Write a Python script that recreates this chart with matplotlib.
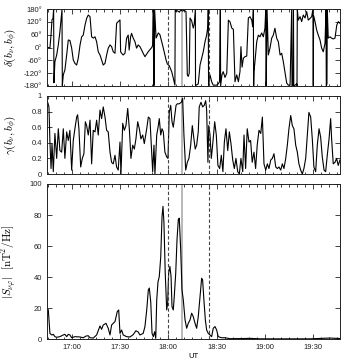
import matplotlib
matplotlib.use("Agg")
import matplotlib.pyplot as plt
from matplotlib.ticker import MultipleLocator

plt.rcParams['font.family'] = ['Liberation Sans', 'DejaVu Sans']
plt.rcParams['mathtext.fontset'] = 'cm'
plt.rcParams['axes.unicode_minus'] = False

# time in minutes after 16:00 UT
delta_t = [44.5, 45.5, 46.5, 47.2, 47.8, 48.4, 48.8, 49.0, 49.6, 50.7, 51.7, 52.7, 54.0, 54.2, 54.8, 55.8,
           56.9, 57.9, 58.9, 60.0, 61.0, 62.0, 63.1, 64.1, 65.2, 66.2, 67.2, 68.3, 69.3, 70.3, 71.4, 72.4,
           73.4, 74.5, 75.5, 76.5, 77.6, 78.6, 79.6, 80.7, 81.7, 82.7, 83.8, 84.8, 85.8, 86.9, 87.9, 88.9,
           90.0, 90.4, 91.0, 92.0, 93.1, 94.1, 95.1, 95.7, 96.6, 97.2, 98.2, 99.3, 100.3, 101.3, 102.4,
           103.4, 104.4, 105.5, 107.5, 109.7, 110.3, 110.7, 110.9, 111.3, 111.5, 112.4, 113.8, 114.8,
           115.9, 116.9, 118.6, 119.4, 120.6, 122.1, 123.1, 124.1, 124.3, 124.8, 125.6, 126.8, 127.7,
           128.9, 129.7, 131.0, 131.8, 132.4, 133.0, 133.5, 134.5, 135.5, 136.1, 136.8, 136.9, 138.6,
           139.7, 141.7, 142.8, 143.8, 144.6, 144.8, 145.0, 145.9, 146.9, 147.9, 150.0, 151.0, 151.8,
           152.3, 152.5, 153.3, 154.1, 155.2, 156.3, 157.3, 158.3, 159.4, 160.4, 161.4, 162.5, 163.5,
           164.5, 165.1, 165.8, 166.6, 167.6, 168.7, 169.7, 170.7, 171.8, 172.4, 172.8, 173.0, 173.2,
           173.8, 174.9, 175.9, 176.9, 178.0, 179.0, 180.0, 180.5, 180.7, 180.8, 181.3, 182.1, 183.1,
           184.2, 185.2, 186.2, 187.3, 188.3, 189.4, 190.4, 191.4, 192.5, 193.5, 194.5, 195.6, 196.6,
           196.8, 197.4, 197.7, 197.9, 198.7, 199.7, 199.9, 200.1, 200.7, 201.8, 202.8, 203.8, 204.9,
           205.9, 206.9, 208.0, 209.0, 209.8, 210.0, 210.2, 211.1, 212.1, 213.1, 214.2, 215.2, 216.2,
           217.3, 217.9, 218.1, 218.5, 218.7, 219.3, 220.4, 221.5, 222.4, 223.5, 224.6, 225.6, 226.6]
delta_v = [0, 0, -3, 60, 130, 136, 178, -165, -66, -35, 12, 74, 178, -178, -128, -105,
           -35, 35, 33, -3, -58, -74, -82, -50, 12, 50, 58, 105, 136, 152, 144, 50,
           44, 50, 27, -20, -35, -58, -82, -74, -35, -3, 12, 4, -20, -27, 113, 121,
           129, -20, -27, -35, -27, 43, 58, -12, 50, 66, 44, 27, -3, 12, 4,
           -12, -27, -43, -20, 0, 10, 179, -179, -175, 179, 44, 68, 60,
           27, -3, -58, -77, -85, -113, -143, -176, 178, 170, 172, 165, 175,
           170, 175, 168, -128, -135, -120, 138, 125, 91, 110, 178, -178, -170,
           -82, -20, 27, 58, 100, 178, -178, -128, -160, -176, -176, -170, -160,
           179, -179, -128, -113, -140, -120, 128, 120, 91, 85, -160, -128, -160,
           -113, 4, -92, -50, -43, -40, 138, 144, 128, 97, 179, -179, -113,
           -66, 27, 58, 50, 68, 50, 90, 178, -178, -175, 178, -35, -4,
           44, 58, 90, 43, 27, -35, -27, -66, -120, -166, -176, -176, 179,
           -179, -176, 179, -179, -176, -170, -178, 178, 128, 144, 121, 152, 138,
           168, 128, 136, 144, 179, -179, 150, 121, 82, 58, 35, -3, -20,
           20, 179, -179, -170, 179, 44, 50, 43, 40, 44, 105, 121, 113]

gamma_t = [44.5, 45.1, 45.9, 46.5, 47.2, 47.8, 48.6, 49.6, 50.7, 51.7, 52.7, 53.8, 54.8, 55.8, 56.9,
           57.9, 58.9, 60.0, 61.0, 62.0, 63.1, 63.7, 64.5, 65.6, 66.6, 67.6, 68.5, 69.3, 70.3, 71.4,
           72.4, 73.4, 74.5, 75.5, 76.5, 77.6, 78.6, 79.6, 80.7, 81.7, 82.7, 83.8, 84.8, 85.8, 86.9,
           87.9, 88.9, 90.0, 90.6, 91.7, 92.7, 93.7, 94.8, 95.8, 96.8, 97.9, 98.9, 99.9, 101.0, 102.0,
           103.0, 104.1, 105.1, 106.6, 107.6, 108.6, 109.7, 110.3, 111.1, 111.7, 112.8, 113.8, 114.4,
           115.3, 116.1, 116.9, 117.9, 119.0, 119.8, 120.6, 121.5, 122.3, 123.1, 124.0, 124.8, 125.6,
           126.8, 128.1, 128.9, 129.7, 130.8, 131.8, 132.8, 133.9, 134.9, 135.9, 136.7, 137.6, 138.6,
           139.2, 140.3, 141.3, 142.3, 143.2, 143.8, 144.6, 145.1, 145.9, 146.7, 147.7, 148.8, 149.8,
           150.8, 151.9, 152.9, 153.9, 154.8, 155.8, 156.9, 157.9, 158.9, 160.0, 161.0, 162.0, 163.1,
           164.1, 165.1, 166.2, 167.0, 168.0, 169.0, 170.1, 171.1, 172.1, 173.2, 174.2, 175.2, 176.3,
           177.4, 178.4, 179.4, 180.5, 181.5, 182.5, 183.6, 184.6, 185.6, 186.7, 187.7, 188.7, 189.8,
           190.8, 191.8, 192.9, 193.9, 194.9, 196.0, 197.0, 198.0, 199.1, 200.1, 201.1, 202.2, 203.2,
           204.2, 205.3, 206.3, 207.3, 208.4, 209.4, 210.4, 211.5, 212.5, 213.6, 214.6, 215.6, 216.7,
           217.7, 218.7, 219.8, 220.8, 221.4, 222.4, 223.5, 224.5, 225.5, 226.6]
gamma_v = [0.88, 0.92, 0.86, 0.41, 0.07, 0.39, 0.03, 0.52, 0.20, 0.58, 0.30, 0.28, 0.58, 0.20, 0.54,
           0.43, 0.56, 0.05, 0.43, 0.58, 0.73, 0.76, 0.58, 0.09, 0.20, 0.26, 0.67, 0.62, 0.50, 0.69,
           0.13, 0.56, 0.54, 0.69, 0.50, 0.82, 0.71, 0.86, 0.73, 0.56, 0.54, 0.28, 0.15, 0.13, 0.24,
           0.09, 0.05, 0.41, 0.0, 0.65, 0.56, 0.62, 0.84, 0.58, 0.20, 0.37, 0.32, 0.45, 0.67, 0.58,
           0.45, 0.50, 0.39, 0.58, 0.73, 0.71, 0.26, 0.03, 0.37, 0.0, 0.50, 0.62, 0.71,
           0.50, 0.58, 0.54, 0.28, 0.22, 0.20, 0.79, 0.88, 0.67, 0.60, 0.75, 0.88, 0.90,
           0.90, 0.92, 0.97, 0.50, 0.05, 0.15, 0.20, 0.37, 0.62, 0.45, 0.32, 0.37, 0.54,
           0.86, 0.92, 0.86, 0.88, 0.94, 0.82, 0.15, 0.62, 0.50, 0.20, 0.41, 0.67, 0.50,
           0.11, 0.07, 0.24, 0.03, 0.41, 0.58, 0.30, 0.54, 0.39, 0.18, 0.07, 0.20, 0.03,
           0.0, 0.20, 0.03, 0.50, 0.07, 0.58, 0.41, 0.43, 0.15, 0.28, 0.07, 0.37, 0.56,
           0.52, 0.73, 0.13, 0.05, 0.13, 0.07, 0.18, 0.20, 0.26, 0.09, 0.07, 0.09, 0.05,
           0.13, 0.07, 0.20, 0.37, 0.58, 0.75, 0.62, 0.58, 0.37, 0.28, 0.13, 0.05, 0.0,
           0.07, 0.20, 0.50, 0.79, 0.73, 0.45, 0.09, 0.03, 0.37, 0.58, 0.47, 0.22, 0.05,
           0.03, 0.24, 0.45, 0.71, 0.45, 0.13, 0.15, 0.20, 0.11, 0.18]

s_t = [44.5, 45.5, 46.5, 47.6, 48.6, 49.6, 50.7, 52.7, 54.8, 55.8, 56.9, 57.9, 58.9, 60.0, 62.0,
       65.2, 67.2, 68.9, 70.3, 71.4, 73.4, 75.5, 77.6, 78.6, 79.6, 81.3, 82.7, 83.8, 84.8, 85.8,
       86.9, 88.3, 89.2, 90.0, 91.0, 92.0, 94.1, 96.2, 98.2, 99.9, 101.3, 102.4, 104.4, 105.5,
       106.6, 107.6, 108.2, 109.1, 109.9, 110.7, 111.5, 112.2, 112.8, 113.6, 114.4, 115.3, 116.1,
       116.7, 117.3, 118.1, 119.0, 119.6, 120.2, 121.0, 121.7, 122.3, 123.1, 123.7, 124.6, 125.4,
       126.2, 126.8, 127.7, 128.5, 129.3, 130.4, 131.4, 132.4, 133.5, 134.5, 135.5, 136.6, 137.6,
       138.6, 139.7, 140.7, 141.3, 142.1, 143.0, 143.8, 144.8, 145.9, 146.9, 147.9, 149.0, 150.0,
       151.0, 153.1, 155.2, 158.3, 167.6, 170.7, 176.9, 189.4, 208.0, 220.4, 224.6, 226.6]
s_v = [20, 19, 3.8, 2.8, 3.2, 1.7, 1.3, 1.7, 2.8, 3.2, 1.7, 3.2, 2.8, 1.0, 1.7,
       1.5, 1.0, 2.1, 2.3, 1.0, 0.8, 2.8, 8.6, 6.4, 9.2, 10.3, 7.1, 2.8, 9.2, 10.3,
       11.4, 17.8, 18.9, 3.8, 6.0, 2.8, 1.7, 1.5, 3.0, 5.5, 4.7, 2.8, 3.8, 8.2,
       18.9, 31.8, 33, 24, 3.8, 1.7, 4.9, 0.6, 25, 37, 40.4, 53, 79,
       85.6, 74.8, 42.5, 18.9, 23.2, 42.5, 46.9, 40.4, 21, 18.9, 27.5, 42.5, 64,
       77, 78, 57.6, 31.8, 25.4, 12.5, 7.1, 10.3, 12.5, 16.8, 14.6, 10.3, 7.1,
       14.6, 27.5, 39.3, 38.3, 25.4, 12.5, 6, 3.8, 2.8, 1.7, 7.1, 8.2, 6,
       1.7, 1.0, 1.0, 0.4, 0.5, 0.6, 0.3, 0.3, 0.3, 0.8, 0.6, 0.5]

dashed_times = [120.0, 145.0]
gray_time = 128.5
xticks = [60, 90, 120, 150, 180, 210]
xticklabels = ['17:00', '17:30', '18:00', '18:30', '19:00', '19:30']
d_ticks = [-180, -120, -60, 0, 60, 120, 180]
d_labels = ['-180°', '-120°', '-60°', '0°', '60°', '120°', '180°']
g_ticks = [0, 0.2, 0.4, 0.6, 0.8, 1.0]
g_labels = ['0', '0.2', '0.4', '0.6', '0.8', '1']
s_ticks = [0, 20, 40, 60, 80, 100]

W, H = 343, 364
fig = plt.figure(figsize=(W / 100, H / 100), dpi=100)

def rect(top, bottom, left=46.7, right=340.0):
    return [left / W, 1 - bottom / H, (right - left) / W, (bottom - top) / H]

ax1 = fig.add_axes(rect(9, 86))
ax2 = fig.add_axes(rect(96, 174))
ax3 = fig.add_axes(rect(184, 339.3))

ax1.plot(delta_t, delta_v, color='black', lw=0.8)
ax2.plot(gamma_t, gamma_v, color='black', lw=0.8)
ax3.plot(s_t, s_v, color='black', lw=0.8)

for ax in (ax1, ax2, ax3):
    ax.set_xlim(44.5, 226.6)
    for t in dashed_times:
        ax.axvline(t, color='#444444', lw=0.8, ls=(0, (3, 2)), zorder=3)
    ax.axvline(gray_time, color='#b8b8b8', lw=1.4, zorder=1)
    ax.set_xticks(xticks)
    ax.xaxis.set_minor_locator(MultipleLocator(5))
    ax.tick_params(which='both', direction='in', top=True, right=True, labelsize=5.5,
                   width=0.6, colors='#222222')
    ax.tick_params(which='major', length=3.5)
    ax.tick_params(which='minor', length=1.8)
    for sp in ax.spines.values():
        sp.set_linewidth(0.7)
        sp.set_color('#222222')

ax1.set_ylim(-180, 180)
ax1.set_yticks(d_ticks)
ax1.set_yticklabels(d_labels)
ax1.set_xticklabels([])
ax1.set_ylabel(r'$\delta(b_\nu,b_\phi)$', fontsize=8)

ax2.set_ylim(0, 1)
ax2.set_yticks(g_ticks)
ax2.set_yticklabels(g_labels)
ax2.set_xticklabels([])
ax2.set_ylabel(r'$\gamma(b_\nu,b_\phi)$', fontsize=8)

ax3.set_ylim(0, 100)
ax3.set_yticks(s_ticks)
ax3.set_xticklabels(xticklabels)
ax3.set_ylabel(r'$|S_{\nu\varphi}|\ \ [\mathrm{nT}^2/\mathrm{Hz}]$', fontsize=8)
ax3.set_xlabel('UT', fontsize=5.5, labelpad=1)

for ax in (ax1, ax2, ax3):
    ax.yaxis.set_label_coords(-0.095, 0.5)

fig.savefig('out.png', dpi=100)
